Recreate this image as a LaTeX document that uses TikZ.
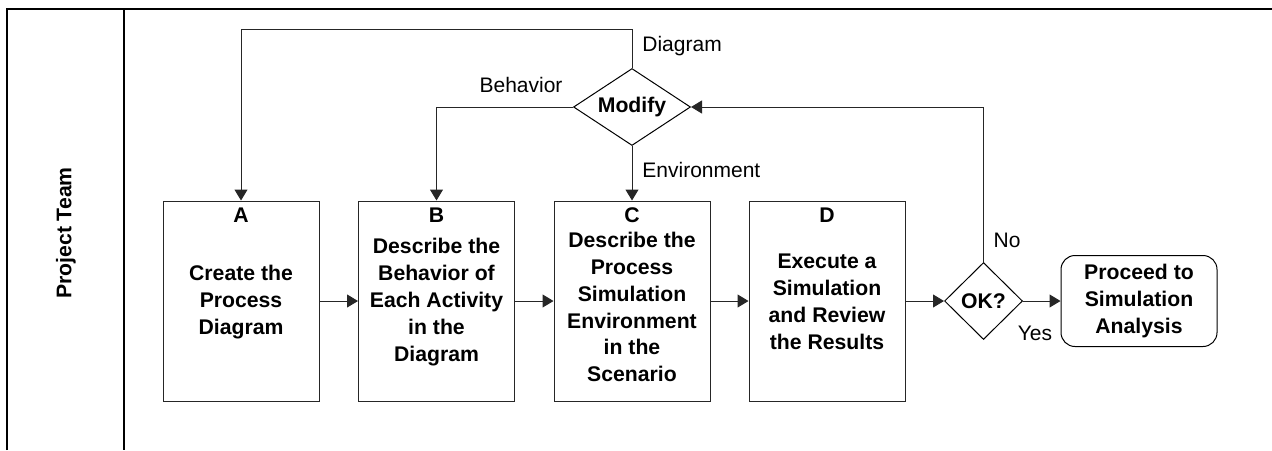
\documentclass[tikz,border=0pt]{standalone}
\usepackage{fontspec}
\setmainfont{Liberation Sans}
\usetikzlibrary{shapes.geometric}
\usetikzlibrary{arrows.meta}
\usepackage{xcolor}

\begin{document}
\begin{tikzpicture}[x=0.5pt, y=-0.5pt]
        % ================= 样式定义 =================
        \tikzset{
            % 步骤方框 (A-D)
            step_box/.style={rectangle, draw=black!85, line width=0.5pt, minimum width=78pt, minimum height=100pt, inner sep=0pt},
            % 方框内文字
            step_text/.style={align=center, font=\fontsize{10.6}{13.45}\selectfont\bfseries, inner sep=0pt},
            % 判断菱形
            dec_node/.style={diamond, draw=black, line width=0.5pt, inner sep=0pt, aspect=1.5, font=\fontsize{10.6}{13.45}\selectfont\bfseries},
            % 终止圆角框
            end_box/.style={rectangle, rounded corners=7pt, draw=black, line width=0.5pt, minimum width=78pt, minimum height=45.5pt, align=center, inner sep=0pt, font=\fontsize{10.6}{13.45}\selectfont\bfseries},
            % 带箭头的流程线
            flow_arrow/.style={line width=0.5pt, draw=black!85, -{Triangle[length=5.5pt, width=6.5pt]}},
            % 泳道边框
            lane_line/.style={line width=1pt, black},
            % 分支标注
            edge_label/.style={inner sep=0pt, font=\fontsize{10.5}{12}\selectfont}
        }

        \useasboundingbox (0,0) rectangle (1272,450);

        % ================= 泳道 =================
        \draw[lane_line] (7,450) -- (7,9) -- (1272,9);
        \draw[lane_line] (124,9) -- (124,450);
        \node[rotate=90, step_text] (team) at (66,233) {Project Team};

        % ================= 步骤方框 =================
        \node[step_box] (A) at (241,301) {};
        \node[step_box] (B) at (436.5,301) {};
        \node[step_box] (C) at (632,301) {};
        \node[step_box] (D) at (827,301) {};

        % 字母编号 (方框顶部)
        \node[step_text] (A_tag) at ([yshift=-7.5pt]A.north) {A};
        \node[step_text] (B_tag) at ([yshift=-7.5pt]B.north) {B};
        \node[step_text] (C_tag) at ([yshift=-7.5pt]C.north) {C};
        \node[step_text] (D_tag) at ([yshift=-7.5pt]D.north) {D};

        % 方框说明文字
        \node[step_text] (A_txt) at (241,302) {Create the\\Process\\Diagram};
        \node[step_text] (B_txt) at (436.5,302) {Describe the\\Behavior of\\Each Activity\\in the\\Diagram};
        \node[step_text] (C_txt) at (632,307) {Describe the\\Process\\Simulation\\Environment\\in the\\Scenario};
        \node[step_text] (D_txt) at (827,302) {Execute a\\Simulation\\and Review\\the Results};

        % ================= 判断与结束 =================
        \node[dec_node, minimum width=58.5pt, minimum height=38.5pt] (modify) at (632,107) {Modify};
        \node[dec_node, aspect=1, minimum width=39pt, minimum height=38.5pt] (ok) at (983.5,301) {OK?};
        \node[end_box] (proceed) at (1139,301) {Proceed to\\Simulation\\Analysis};

        % ================= 流程线 =================
        % --- 1. 主流程 A -> B -> C -> D -> OK? -> 结束 ---
        \draw[flow_arrow] (A) -- (B);
        \draw[flow_arrow] (B) -- (C);
        \draw[flow_arrow] (C) -- (D);
        \draw[flow_arrow] (D) -- (ok);
        \draw[flow_arrow] (ok) -- (proceed);

        % --- 2. 不通过则回到 Modify ---
        \draw[flow_arrow] (ok.north) |- (modify.east);

        % --- 3. Modify 的三个分支 ---
        \coordinate (diag_top) at (632,29);
        \draw[flow_arrow] (modify.north) -- (diag_top) -| (A.north);
        \draw[flow_arrow] (modify.west) -| (B.north);
        \draw[flow_arrow] (modify.south) -- (C.north);

        % 分支标注
        \node[edge_label, anchor=west] (lbl_diag) at (642,46) {Diagram};
        \node[edge_label] (lbl_beh) at (521,85) {Behavior};
        \node[edge_label, anchor=west] (lbl_env) at (642,170) {Environment};
        \node[edge_label] (lbl_no) at (1007,240) {No};
        \node[edge_label] (lbl_yes) at (1035,333) {Yes};

    \end{tikzpicture}
\end{document}
